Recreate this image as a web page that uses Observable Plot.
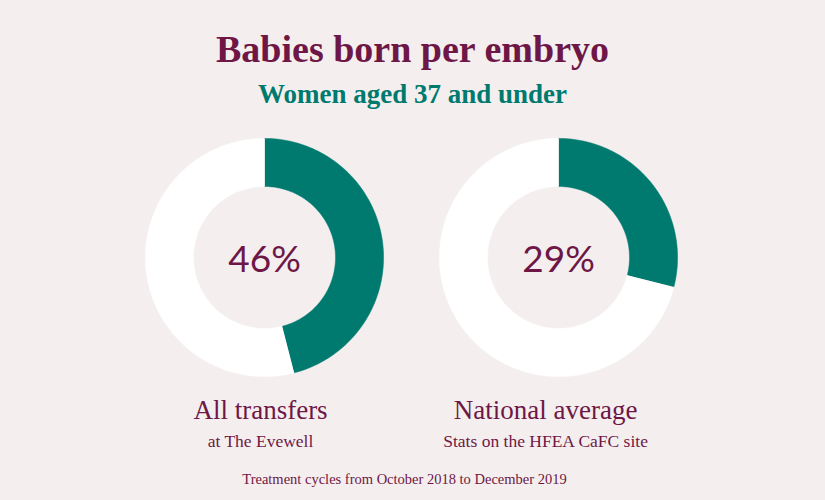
<!DOCTYPE html>
<html><head><meta charset="utf-8">
<script src="https://cdn.jsdelivr.net/npm/d3@7"></script>
<script src="https://cdn.jsdelivr.net/npm/@observablehq/plot@0.6"></script>
<style>
html,body{margin:0;padding:0;background:#f4efee;}
#wrap{position:relative;width:825px;height:500px;overflow:hidden;background:#f4efee;}
#wrap svg{position:absolute;left:0;top:0;}
.t{position:absolute;left:0;width:825px;text-align:center;white-space:nowrap;line-height:1;}
</style></head><body>
<div id="wrap">
<div class="t" style="top:30px;font-family:'Liberation Serif';font-weight:bold;font-size:38px;color:#6e1747">Babies born per embryo</div>
<div class="t" style="top:81px;font-family:'Liberation Serif';font-weight:bold;font-size:27px;color:#007a6e">Women aged 37 and under</div>
<div class="t" style="top:472px;left:-8px;font-family:'Liberation Serif';font-size:14.5px;color:#6e1747">Treatment cycles from October 2018 to December 2019</div>
</div>
<script>
// ---- data ----
const charts = ["All transfers", "National average"];
const subLabels = ["at The Evewell", "Stats on the HFEA CaFC site"];
const percents = [46, 29];
const segments = ["Babies born", "Remainder"];

// ---- layout / style ----
const maroon = "#6e1747", teal = "#007a6e", ring = "#ffffff";
const R_OUT = 0.81, R_IN = 0.483;
const labelShift = [-0.027, -0.088];

const rows = charts.map((chart, i) => ({chart, sub: subLabels[i], pct: percents[i], shift: labelShift[i]}));

// ring polygons built from each percentage
const arcRows = [];
rows.forEach(r => {
  const v = r.pct / 100;
  [[segments[0], 0, v], [segments[1], v, 1]].forEach(([seg, a, b]) => {
    const n = Math.max(2, Math.ceil((b - a) * 240));
    const pts = [];
    for (let k = 0; k <= n; k++) { const t = (a + (b - a) * k / n) * 2 * Math.PI; pts.push([R_OUT * Math.sin(t), R_OUT * Math.cos(t)]); }
    for (let k = n; k >= 0; k--) { const t = (a + (b - a) * k / n) * 2 * Math.PI; pts.push([R_IN * Math.sin(t), R_IN * Math.cos(t)]); }
    pts.forEach(p => arcRows.push({chart: r.chart, seg, id: r.chart + "|" + seg, x: p[0], y: p[1]}));
  });
});

const svg = Plot.plot({
  width: 825, height: 500,
  marginTop: 110, marginBottom: 96, marginLeft: 117, marginRight: 120,
  style: {background: "transparent", overflow: "visible"},
  fx: {domain: charts, paddingInner: 0, paddingOuter: 0, axis: null},
  x: {domain: [-1, 1], axis: null},
  y: {domain: [-1, 1], axis: null},
  color: {domain: segments, range: [teal, ring]},
  marks: [
    Plot.line(arcRows, {fx: "chart", x: "x", y: "y", z: "id", fill: "seg", stroke: "seg", strokeWidth: 0.5}),
    Plot.text(rows, {fx: "chart", x: 0, y: 0, text: d => d.pct + "%", fontFamily: "Lato", fontWeight: 400, fontSize: 37, fill: maroon, dy: 2.5}),
    Plot.text(rows, {fx: "chart", x: "shift", y: 0, text: "chart", lineAnchor: "bottom", dy: 161, fontFamily: "Liberation Serif", fontSize: 27, fill: maroon}),
    Plot.text(rows, {fx: "chart", x: "shift", y: 0, text: "sub", lineAnchor: "bottom", dy: 189, fontFamily: "Liberation Serif", fontSize: 17.5, fill: maroon})
  ]
});
document.getElementById("wrap").prepend(svg);
</script>
</body></html>
